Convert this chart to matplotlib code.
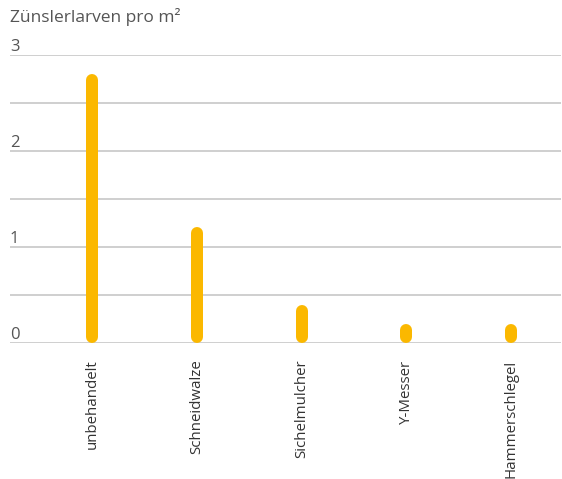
import matplotlib
matplotlib.use("Agg")
import matplotlib.pyplot as plt
import matplotlib.transforms as mtransforms

categories = ["unbehandelt", "Schneidwalze", "Sichelmulcher", "Y-Messer", "Hammerschlegel"]
values = [2.80, 1.21, 0.40, 0.20, 0.20]
yticks = [0, 1, 2, 3]
ytick_labels = ["0", "1", "2", "3"]
grid_vals = [0, 0.5, 1, 1.5, 2, 2.5, 3]
title = "Zünslerlarven pro m²"

plt.rcParams['font.family'] = ['Open Sans', 'DejaVu Sans']

W, H, DPI = 562, 479, 100
fig = plt.figure(figsize=(W / DPI, H / DPI), dpi=DPI)
left_px, right_px, top_px, bot_px = 10, 561, 55, 343
ax = fig.add_axes([left_px / W, (H - bot_px) / H, (right_px - left_px) / W, (bot_px - top_px) / H])
ax.set_ylim(0, 3)
band = 104.6
x0 = 92.3
ax.set_xlim(-(x0 - left_px) / band, (right_px - x0) / band)
for s in ax.spines.values():
    s.set_visible(False)
ax.set_yticks([])
ax.set_xticks(range(len(categories)))
ax.set_xticklabels(categories, rotation=90, fontsize=10.8, color='#333333', va='top')
ax.tick_params(axis='x', length=0, pad=12)

for g in grid_vals:
    ax.axhline(g, color='#cccccc', lw=1.3, zorder=1)

trans = mtransforms.blended_transform_factory(ax.transAxes, ax.transData)
off = mtransforms.offset_copy(trans, fig=fig, x=0, y=0, units='dots')
for v, lab in zip(yticks, ytick_labels):
    ax.text(0, v, lab, transform=off, ha='left', va='bottom', fontsize=12, color='#555555')

bar_px = 12
r = (bar_px / 2) / ((bot_px - top_px) / 3)
for i, v in enumerate(values):
    ax.plot([i, i], [r, v - r], color='#FBB800', lw=bar_px * 72 / DPI,
            solid_capstyle='round', zorder=3, clip_on=False)

fig.text(left_px / W, 1 - 17 / H, title, ha='left', va='center', fontsize=12.5, color='#555555')

fig.savefig("out.png", dpi=DPI)
